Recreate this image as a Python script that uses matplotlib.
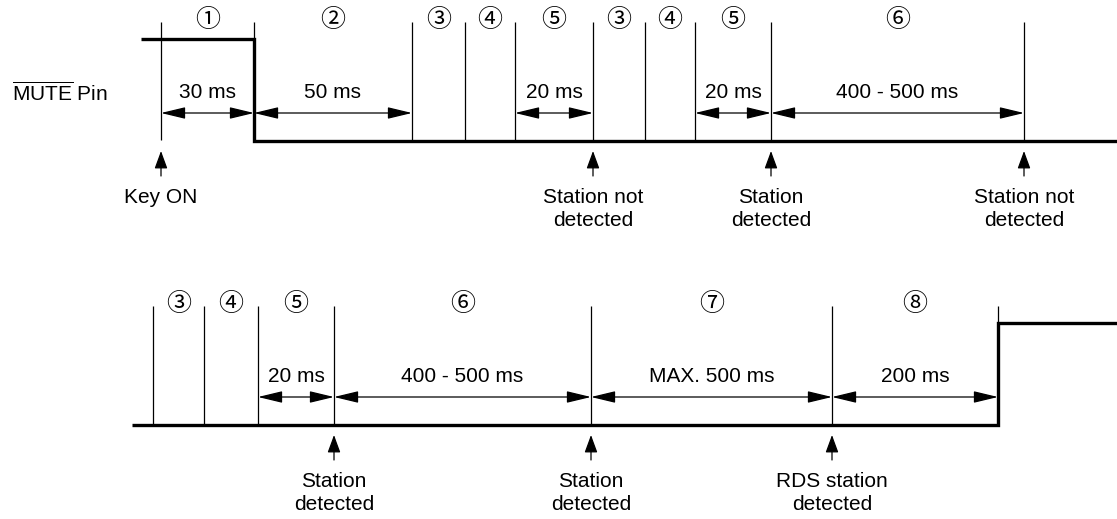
import matplotlib.pyplot as plt

plt.rcParams['font.family'] = ['Liberation Sans', 'DejaVu Sans', 'Noto Sans CJK JP']
plt.rcParams['mathtext.fontset'] = 'custom'
plt.rcParams['mathtext.rm'] = 'Liberation Sans'

# timing diagram, coordinates in pixels of the 1117x519 canvas
# upper sequence
top_edges = [161, 254, 412, 465, 515, 593, 645, 695, 771, 1024]
top_phases = ['①', '②', '③', '④', '⑤', '③', '④', '⑤', '⑥']
top_spans = [(0, 1, '30 ms'), (1, 2, '50 ms'), (4, 5, '20 ms'),
             (7, 8, '20 ms'), (8, 9, '400 - 500 ms')]
top_events = [(0, 'Key ON'), (5, 'Station not\ndetected'),
              (8, 'Station\ndetected'), (9, 'Station not\ndetected')]
top_signal_x = [141, 254, 254, 1117]
top_signal_y = [39, 39, 141, 141]

# lower sequence
bot_edges = [153, 204, 258, 334, 591, 832, 998]
bot_phases = ['③', '④', '⑤', '⑥', '⑦', '⑧']
bot_spans = [(2, 3, '20 ms'), (3, 4, '400 - 500 ms'),
             (4, 5, 'MAX. 500 ms'), (5, 6, '200 ms')]
bot_events = [(3, 'Station\ndetected'), (4, 'Station\ndetected'),
              (5, 'RDS station\ndetected')]
bot_signal_x = [132, 998, 998, 1117]
bot_signal_y = [425, 425, 323, 323]

FS = 15


def draw_row(ax, edges, phases, spans, events, sx, sy, y0):
    # y0 = level of the low line for this row
    line_top = y0 - 119
    for x in edges:
        ax.plot([x, x], [line_top, y0 - 1], color='black', lw=0.9,
                solid_capstyle='butt')
    ax.plot(sx, sy, color='black', lw=2.4, solid_joinstyle='miter',
            solid_capstyle='butt')
    for i, ph in enumerate(phases):
        xc = (edges[i] + edges[i + 1]) / 2
        ax.text(xc, y0 - 121, ph, ha='center', va='center', fontsize=18,
                family='Noto Sans CJK JP')
    for a, b, lab in spans:
        xa, xb = edges[a], edges[b]
        ax.annotate('', xy=(xb, y0 - 28), xytext=(xa, y0 - 28),
                    arrowprops=dict(arrowstyle='<|-|>,head_length=0.75,head_width=0.18',
                                    color='black', lw=0.9, mutation_scale=20,
                                    shrinkA=0, shrinkB=0))
        ax.text((xa + xb) / 2, y0 - 49, lab, ha='center', va='center',
                fontsize=FS)
    for i, lab in events:
        x = edges[i]
        ax.annotate('', xy=(x, y0 + 10), xytext=(x, y0 + 35),
                    arrowprops=dict(arrowstyle='-|>,head_length=0.6,head_width=0.22',
                                    color='black', lw=0.9, mutation_scale=18,
                                    shrinkA=0, shrinkB=0))
        ax.text(x, y0 + 47, lab, ha='center', va='top', fontsize=FS,
                linespacing=1.25)


fig = plt.figure(figsize=(11.17, 5.19), dpi=100)
ax = fig.add_axes([0, 0, 1, 1])
ax.set_xlim(0, 1117)
ax.set_ylim(519, 0)
ax.axis('off')

draw_row(ax, top_edges, top_phases, top_spans, top_events,
         top_signal_x, top_signal_y, 141)
draw_row(ax, bot_edges, bot_phases, bot_spans, bot_events,
         bot_signal_x, bot_signal_y, 425)

ax.text(12, 93, r'$\overline{\mathrm{MUTE}}$ Pin', ha='left', va='center',
        fontsize=FS)

fig.savefig('out.png', dpi=100)
